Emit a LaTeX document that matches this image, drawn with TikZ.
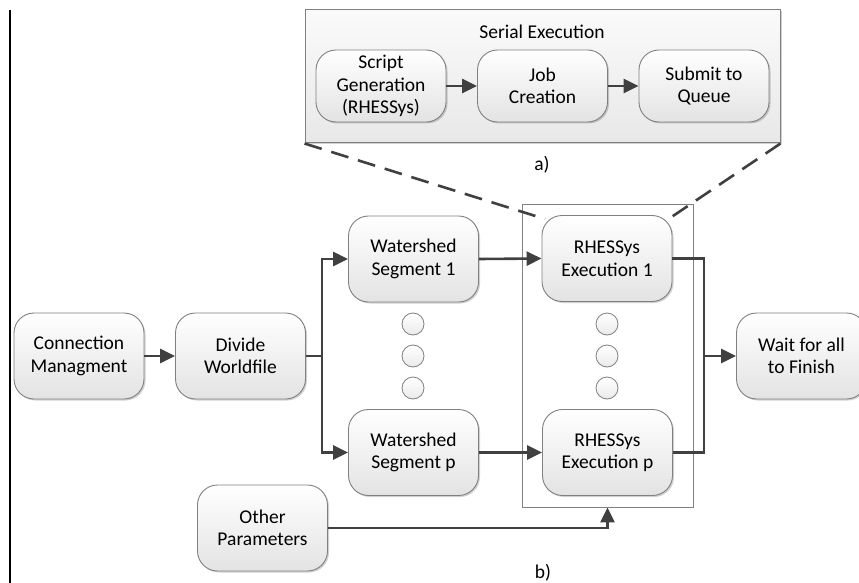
\documentclass[tikz,border=0pt]{standalone}
\usepackage{fontspec}
\setmainfont{Carlito}
\usetikzlibrary{arrows.meta,shadows}
\definecolor{lineg}{RGB}{64,64,64}
\definecolor{boxborder}{RGB}{128,128,128}
\tikzset{
  proc/.style={draw=boxborder, line width=0.9pt, rounded corners=20pt, top color=white, bottom color=black!11,
    minimum width=130pt, minimum height=86pt, align=center, inner sep=0pt,
    font=\fontsize{19.5}{22.5}\selectfont,
    drop shadow={shadow xshift=1.5pt, shadow yshift=-1.5pt, opacity=0.18, fill=black}},
  sproc/.style={proc, minimum height=72pt},
  flow/.style={draw=lineg, line width=2.6pt, -{Triangle[length=15pt,width=14pt]}},
  plain/.style={draw=lineg, line width=2.6pt},
  dot/.style={circle, draw=boxborder, line width=0.8pt, top color=white, bottom color=black!8, minimum size=22pt, inner sep=0pt},
  lbl/.style={font=\fontsize{19.5}{22.5}\selectfont, inner sep=0pt},
  dashlink/.style={draw=lineg, line width=2.6pt, dash pattern=on 18pt off 10pt},
}
\begin{document}
\begin{tikzpicture}[x=1pt,y=-1pt]
\useasboundingbox (0,0) rectangle (859,583);
% left vertical line
\draw[line width=1.2pt, black] (10,10) coordinate (ltop) -- (10,583) coordinate (lbot);
% top panel
\node[draw=boxborder, line width=1pt, top color=black!2, bottom color=black!9, minimum width=475pt, minimum height=133pt, inner sep=0pt,
  drop shadow={shadow xshift=1.5pt, shadow yshift=-1.5pt, opacity=0.18, fill=black}] (panel) at (542.5,76.5) {};
\node[lbl] (serial) at (542,32) {Serial Execution};
\node[sproc] (sg) at (381,86) {Script\\Generation\\(RHESSys)};
\node[sproc] (jc) at (542.5,86) {Job\\Creation};
\node[sproc] (sq) at (704,86) {Submit to\\Queue};
\draw[flow] (sg.east) -- (jc.west);
\draw[flow] (jc.east) -- (sq.west);
\node[lbl] (la) at (542,165) {a)};
% enclosure
\node[draw=boxborder, line width=0.9pt, minimum width=171pt, minimum height=303pt, inner sep=0pt] (encl) at (607.5,355.5) {};
% nodes
\node[proc] (cm) at (79,356) {Connection\\Managment};
\node[proc] (dw) at (240.5,356) {Divide\\Worldfile};
\node[proc] (ws1) at (413.5,259) {Watershed\\Segment 1};
\node[proc] (wsp) at (413.5,452.5) {Watershed\\Segment p};
\node[proc] (ex1) at (607,258.5) {RHESSys\\Execution 1};
\node[proc] (exp) at (607.5,452.5) {RHESSys\\Execution p};
\node[proc] (wait) at (801.5,356) {Wait for all\\to Finish};
\node[proc] (op) at (262.5,528) {Other\\Parameters};
\node[lbl] (lb) at (543,573) {b)};
% dots
\node[dot] (d1) at (413,324) {};
\node[dot] (d2) at (413,356) {};
\node[dot] (d3) at (413,388) {};
\node[dot] (e1) at (607,324) {};
\node[dot] (e2) at (607,356) {};
\node[dot] (e3) at (607,388) {};
% dashed links
\coordinate (dl) at (545,219);
\coordinate (dr) at (670,218);
\draw[dashlink] (panel.south west) -- (dl);
\draw[dashlink] (panel.south east) -- (dr);
% connectors
\coordinate (j1) at (322,356);
\coordinate (j2) at (704,356);
\draw[flow] (cm.east) -- (dw.west);
\draw[plain] (dw.east) -- (j1);
\draw[flow] (j1) |- (ws1.west);
\draw[flow] (j1) |- (wsp.west);
\draw[flow] (ws1.east) -- (ex1.west);
\draw[flow] (wsp.east) -- (exp.west);
\draw[plain] (ex1.east) -| (j2) |- (exp.east);
\draw[flow] (j2) -- (wait.west);
\draw[flow] (op.east) -| (encl.south);
\end{tikzpicture}
\end{document}
